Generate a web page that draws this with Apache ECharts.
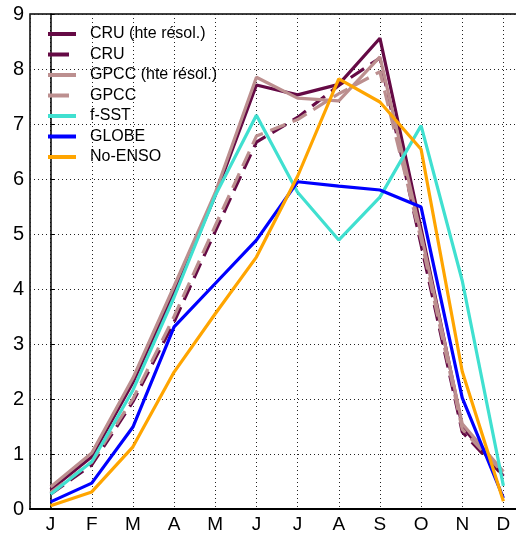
<!DOCTYPE html>
<html><head><meta charset="utf-8">
<script src="https://cdn.jsdelivr.net/npm/echarts@6/dist/echarts.min.js"></script>
<style>html,body{margin:0;padding:0;background:#fff;overflow:hidden;width:516px;height:534px}#c{width:540px;height:534px}</style>
</head><body><div id="c"></div>
<script>
var months = ['J','F','M','A','M','J','J','A','S','O','N','D'];
var yTicks = [0,1,2,3,4,5,6,7,8,9];
var cruHte  = [0.35, 0.95, 2.30, 3.95, 5.70, 7.71, 7.53, 7.72, 8.56, 5.10, 1.50, 0.60];
var cru     = [0.27, 0.80, 1.95, 3.40, 5.05, 6.67, 7.12, 7.70, 8.20, 4.80, 1.40, 0.60];
var gpccHte = [0.40, 1.02, 2.38, 4.05, 5.75, 7.85, 7.47, 7.42, 8.22, 5.00, 1.55, 0.68];
var gpcc    = [0.30, 0.85, 2.00, 3.50, 5.15, 6.78, 7.08, 7.55, 7.95, 4.90, 1.45, 0.65];
var fSST    = [0.27, 0.86, 2.16, 3.85, 5.70, 7.16, 5.76, 4.89, 5.67, 6.97, 4.15, 0.42];
var globe   = [0.13, 0.47, 1.49, 3.31, 4.10, 4.89, 5.95, 5.87, 5.80, 5.49, 2.02, 0.20];
var noEnso  = [0.06, 0.31, 1.13, 2.49, 3.55, 4.58, 6.05, 7.82, 7.40, 6.54, 2.50, 0.14];

var seriesDefs = [
  {name:'CRU (hte résol.)', data:cruHte, color:'#650a45', dashed:false},
  {name:'CRU', data:cru, color:'#650a45', dashed:true},
  {name:'GPCC (hte résol.)', data:gpccHte, color:'#bc8f8f', dashed:false},
  {name:'GPCC', data:gpcc, color:'#bc8f8f', dashed:true},
  {name:'f-SST', data:fSST, color:'#40e0d0', dashed:false},
  {name:'GLOBE', data:globe, color:'#0000ff', dashed:false},
  {name:'No-ENSO', data:noEnso, color:'#ffa500', dashed:false}
];
var FONT = 'Liberation Sans';
var chart = echarts.init(document.getElementById('c'), null, {renderer:'canvas'});
chart.setOption({
  animation:false,
  backgroundColor:'#fff',
  grid:{left:30, top:14, width:494, height:495, show:true, borderColor:'#000', borderWidth:1.5, backgroundColor:'transparent'},
  legend:{
    orient:'vertical', left:46, top:26, padding:0, itemWidth:28, itemHeight:10, itemGap:4.5,
    itemStyle:{opacity:0},
    textStyle:{fontFamily:FONT, fontSize:16, color:'#000', padding:[0,0,0,9]},
    data:seriesDefs.map(function(s){
      return {name:s.name, lineStyle:{width:4, color:s.color, type:s.dashed?[21,7]:'solid'}};
    })
  },
  xAxis:{
    type:'value', min:-0.5, max:11.5, minInterval:1, maxInterval:1, splitNumber:12,
    axisLine:{lineStyle:{color:'#000', width:2}},
    axisTick:{show:false},
    axisLabel:{fontFamily:FONT, fontSize:19, color:'#000', margin:6,
      showMinLabel:false, showMaxLabel:false,
      formatter:function(v){return (v>=0 && v<=11 && Math.round(v)===v) ? months[v] : '';}},
    splitLine:{show:true, lineStyle:{color:'#222', type:[1,3], width:1}}
  },
  yAxis:{
    type:'value', min:0, max:9, interval:1,
    axisLine:{show:true, lineStyle:{color:'#000', width:1.5}},
    axisTick:{show:true, inside:true, length:4, lineStyle:{color:'#000'}},
    axisLabel:{fontFamily:FONT, fontSize:20, color:'#000', margin:6,
      formatter:function(v){return yTicks.indexOf(v)>=0 ? String(v) : '';}},
    splitLine:{show:true, lineStyle:{color:'#222', type:[1,3], width:1}}
  },
  series:seriesDefs.map(function(s){
    return {name:s.name, type:'line', symbol:'none', smooth:false, color:s.color,
      data:s.data.map(function(v,i){return [i, v];}),
      lineStyle:{color:s.color, width:3.2, type:s.dashed?[16,8]:'solid'}, z:2};
  })
});
</script></body></html>
